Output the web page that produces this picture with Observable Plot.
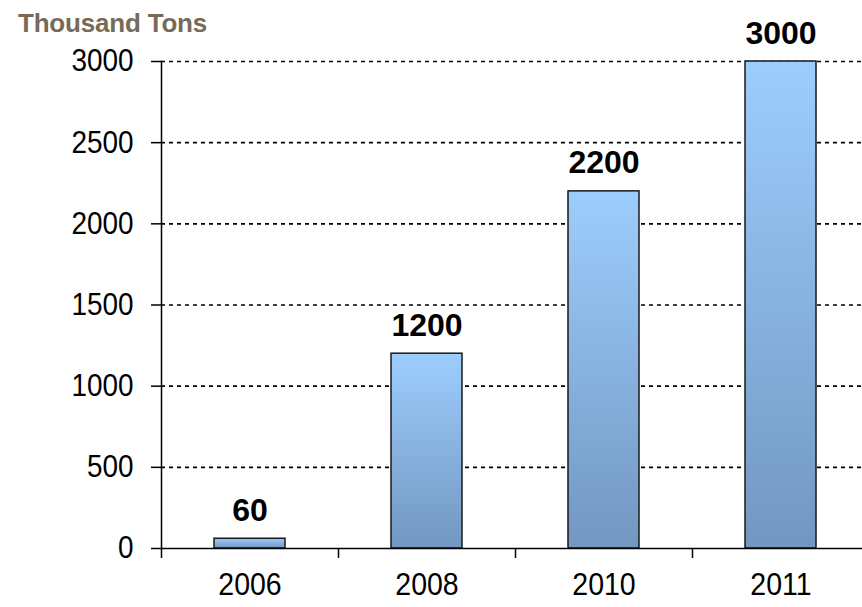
<!DOCTYPE html>
<html>
<head>
<meta charset="utf-8">
<script src="https://cdn.jsdelivr.net/npm/d3@7"></script>
<script src="https://cdn.jsdelivr.net/npm/@observablehq/plot@0.6"></script>
<style>
  html, body { margin: 0; padding: 0; background: #fff; }
  #wrap { position: relative; width: 862px; height: 607px; overflow: hidden; }
  #title { position: absolute; left: 18px; top: 8px; font-family: "Liberation Sans", Arial, sans-serif; font-weight: bold; font-size: 26px; color: #786a58; z-index: 2; white-space: nowrap; letter-spacing: -0.2px; }
  svg { position: absolute; left: 0; top: 0; }
</style>
</head>
<body>
<div id="wrap">
  <div id="title">Thousand Tons</div>
  <div id="chart"></div>
</div>
<script>
const years = ["2006", "2008", "2010", "2011"];
const values = [60, 1200, 2200, 3000];
const yTicks = [0, 500, 1000, 1500, 2000, 2500, 3000];
const gridTicks = [500, 1000, 1500, 2000, 2500, 3000];

const data = years.map((y, i) => ({year: y, value: values[i]}));
const font = "'Liberation Sans', Arial, sans-serif";

const chart = Plot.plot({
  width: 862,
  height: 607,
  marginLeft: 161,
  marginTop: 61,
  marginBottom: 59,
  marginRight: 0,
  style: {fontFamily: font, background: "transparent", overflow: "visible"},
  x: {domain: years, range: [161, 869], padding: 0, label: null},
  y: {domain: [0, 3000], label: null},
  marks: [
    Plot.ruleY(gridTicks, {y: d => d, stroke: "#000", strokeWidth: 1.6, strokeDasharray: "4,4"}),
    Plot.barY(data, {x: "year", y: "value", fill: "url(#barGrad)", stroke: "#1a1a1a", strokeWidth: 1.5, insetLeft: 53, insetRight: 53}),
    Plot.ruleY([0], {stroke: "#000", strokeWidth: 1.5}),
    Plot.frame({anchor: "left", stroke: "#000", strokeWidth: 1.5}),
    Plot.axisY({ticks: yTicks, tickSize: 10, tickPadding: 18, fontSize: 31, stroke: "#000", strokeWidth: 1.5, strokeOpacity: 1, tickFormat: d => String(d), color: "#000", className: "yax"}),
    Plot.axisX({tickSize: 0, tickPadding: 24, fontSize: 31, color: "#000", className: "xax"}),
    Plot.tickX(years, {x: d => d, dx: -88.5, y1: 0, y2: 0, stroke: "#000", strokeWidth: 1.5, className: "xbound"}),
    Plot.text(data, {x: "year", y: "value", text: d => String(d.value), dy: -18, fontSize: 32, fontWeight: "bold", fill: "#000", lineAnchor: "bottom"})
  ]
});

const svg = d3.select(chart);
const defs = svg.insert("defs", ":first-child");
const g = defs.append("linearGradient").attr("id", "barGrad").attr("x1", 0).attr("y1", 0).attr("x2", 0).attr("y2", 1);
g.append("stop").attr("offset", "0%").attr("stop-color", "#9dcdfd");
g.append("stop").attr("offset", "100%").attr("stop-color", "#7297c1");

document.getElementById("chart").appendChild(chart);

// boundary ticks extend downward below the baseline
svg.selectAll("g.xbound line").attr("y1", 548).attr("y2", 558);

// condense axis labels horizontally around their anchor point
function condense(sel, k) {
  svg.selectAll(sel).each(function() {
    const t = this.getAttribute("transform") || "";
    this.setAttribute("transform", (t + ` scale(${k},1)`).trim());
  });
}
condense("g.yax text", 0.9);
condense("g.xax text", 0.92);
</script>
</body>
</html>
